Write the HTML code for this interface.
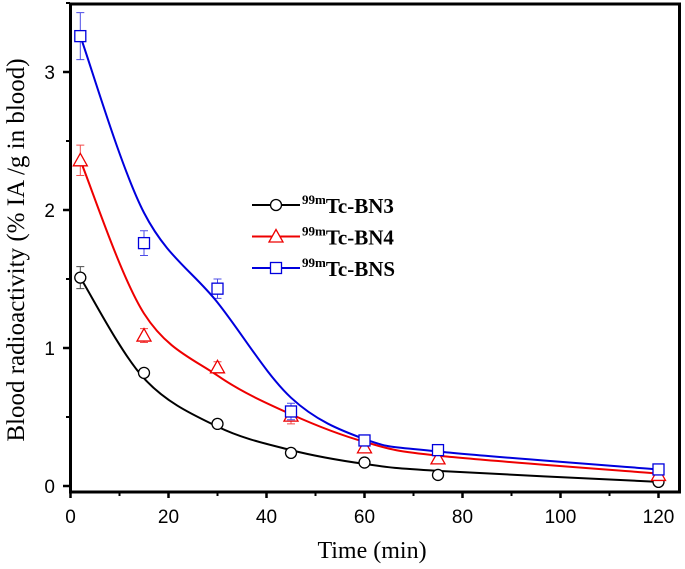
<!DOCTYPE html>
<html><head><meta charset="utf-8"><style>body{margin:0;background:#fff}svg{display:block}text{font-family:"Liberation Serif",serif}</style></head>
<body>
<svg id="c" width="685" height="569"></svg>
<script>
const times=[2,15,30,45,60,75,120];
const bn3=[1.51,0.82,0.45,0.24,0.17,0.08,0.03];
const bn4=[2.36,1.09,0.86,0.51,0.28,0.20,0.08];
const bns=[3.26,1.76,1.43,0.54,0.33,0.26,0.12];
const bn3Err=[0.08,0.03,0.03,0.03,0.03,0.03,0.03];
const bn4Err=[0.11,0.05,0.04,0.06,0.04,0.04,0.03];
const bnsErr=[0.17,0.09,0.07,0.06,0.04,0.03,0.03];
const bn3Fit=[1.51,0.78,0.43,0.26,0.16,0.11,0.03];
const bn4Fit=[2.36,1.25,0.80,0.52,0.32,0.22,0.09];
const bnsFit=[3.26,1.98,1.33,0.64,0.34,0.25,0.12];
const xTicks=[0,20,40,60,80,100,120];
const yTicks=[0,1,2,3];
const X=v=>70.5+v*4.9, Y=v=>486-v*138;
const svg=document.getElementById('c');const NS='http://www.w3.org/2000/svg';
function el(t,a,p){const e=document.createElementNS(NS,t);for(const k in a)e.setAttribute(k,a[k]);(p||svg).appendChild(e);return e;}
let e;
e=el('rect',{x:70.5,y:4,width:609,height:488,fill:'none',stroke:'#000','stroke-width':3});

xTicks.forEach((t,i)=>{e=el('line',{x1:X(t),x2:X(t),y1:492,y2:498,stroke:'#000','stroke-width':2.5});

if(i<xTicks.length-1){e=el('line',{x1:X(t+10),x2:X(t+10),y1:492,y2:496,stroke:'#000','stroke-width':2});}
e=el('text',{x:X(t),y:523,'text-anchor':'middle','font-size':19,style:'font-family:"Liberation Sans",sans-serif'});e.textContent=t;
});
yTicks.forEach(t=>{e=el('line',{x1:63,x2:70,y1:Y(t),y2:Y(t),stroke:'#000','stroke-width':2.5});

e=el('line',{x1:66,x2:70,y1:Y(t+0.5),y2:Y(t+0.5),stroke:'#000','stroke-width':2});

e=el('text',{x:55,y:Y(t)+7,'text-anchor':'end','font-size':19,style:'font-family:"Liberation Sans",sans-serif'});e.textContent=t;
});
e=el('text',{x:372,y:558,'text-anchor':'middle','font-size':24});e.textContent='Time (min)';

e=el('text',{x:0,y:0,'text-anchor':'middle','font-size':25,transform:'translate(24,250) rotate(-90)'});e.textContent='Blood radioactivity (% IA /g in blood)';

function path(vals){const p=times.map((t,i)=>[X(t),Y(vals[i])]);let d='M'+p[0];
for(let i=0;i<p.length-1;i++){const p0=p[i-1]||p[i],p1=p[i],p2=p[i+1],p3=p[i+2]||p2;
d+=' C'+(p1[0]+(p2[0]-p0[0])/6)+','+(p1[1]+(p2[1]-p0[1])/6)+' '+(p2[0]-(p3[0]-p1[0])/6)+','+(p2[1]-(p3[1]-p1[1])/6)+' '+p2;}return d;}
function marker(shape,x,y,c,g){if(shape==='c')return el('circle',{cx:x,cy:y,r:5.5,fill:'#fff',stroke:c,'stroke-width':1.3},g);
if(shape==='t')return el('polygon',{points:`${x},${y-7} ${x-7},${y+5.5} ${x+7},${y+5.5}`,fill:'#fff',stroke:c,'stroke-width':1.3},g);
return el('rect',{x:x-5.5,y:y-5.5,width:11,height:11,fill:'#fff',stroke:c,'stroke-width':1.3},g);}
const series=[['bn3',bn3,bn3Err,bn3Fit,'#000','c'],['bn4',bn4,bn4Err,bn4Fit,'#e00','t'],['bns',bns,bnsErr,bnsFit,'#00d','s']];
series.forEach(([n,v,er,f,c,s])=>{const g=el('g',{});
e=el('path',{d:path(f),fill:'none',stroke:c,'stroke-width':2},g);
times.forEach((t,i)=>{const x=X(t);e=el('path',{d:`M${x},${Y(v[i]-er[i])}V${Y(v[i]+er[i])}M${x-4},${Y(v[i]-er[i])}h8M${x-4},${Y(v[i]+er[i])}h8`,stroke:c,'stroke-width':1,fill:'none',opacity:0.7},g);

e=marker(s,x,Y(v[i]),c,g);});});
const labels=['BN3','BN4','BNS'];
series.forEach(([n,v,er,f,c,s],i)=>{const y=205+i*31.5;const g=el('g',{});
el('line',{x1:252,x2:300,y1:y,y2:y,stroke:c,'stroke-width':2},g);marker(s,276,y,c,g);
const t=el('text',{x:302,y:y+8,'font-size':21,'font-weight':'bold'},g);
const sp=el('tspan',{'font-size':13,dy:-9},t);sp.textContent='99m';const sp2=el('tspan',{dy:9},t);sp2.textContent='Tc-'+labels[i];});
</script>
</body></html>
